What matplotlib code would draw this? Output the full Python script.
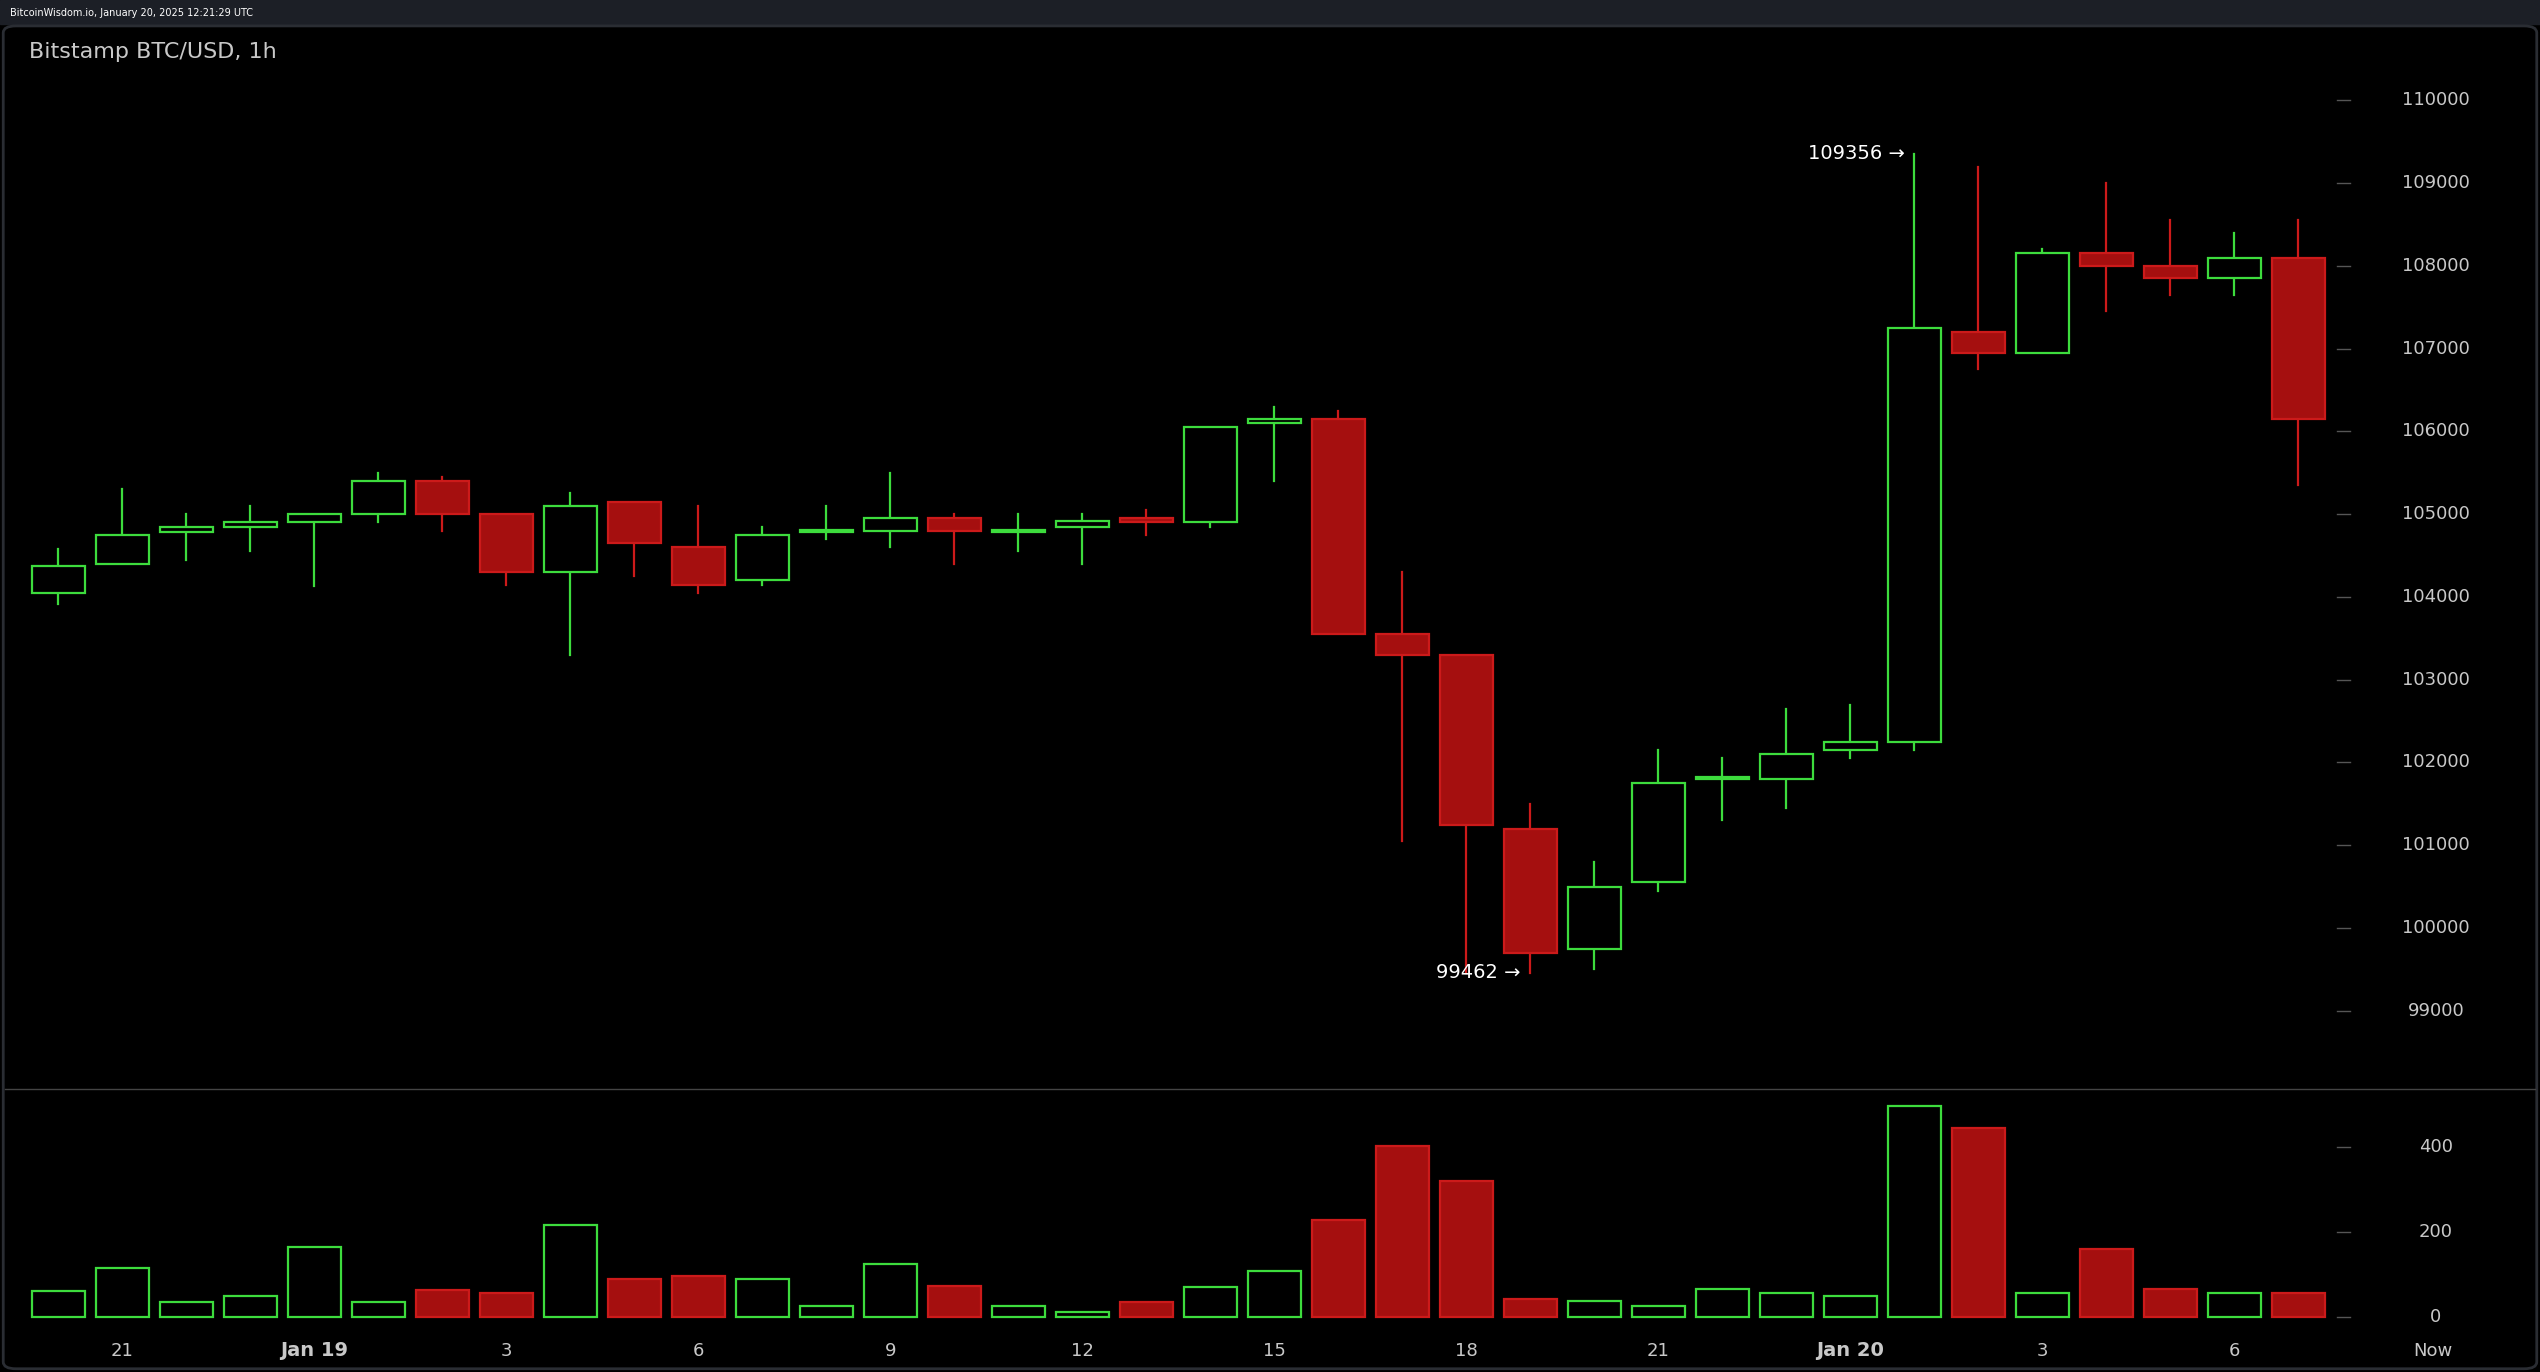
import matplotlib
matplotlib.use("Agg")
import matplotlib.pyplot as plt
from matplotlib.patches import Rectangle, FancyBboxPatch

opens  = [104050,104400,104780,104850,104900,105000,105400,105000,104300,105150,104600,104200,104780,104800,104950,104780,104850,104950,104900,106100,106150,103550,103300,101200,99750,100550,101800,101800,102150,102250,107200,106950,108150,108000,107850,108100]
closes = [104370,104750,104850,104900,105000,105400,105000,104300,105100,104650,104150,104750,104800,104950,104800,104800,104920,104900,106050,106150,103550,103300,101250,99700,100500,101750,101800,102100,102250,107250,106950,108150,108000,107850,108100,106150]
highs  = [104580,105300,105000,105100,105000,105500,105450,105000,105250,105150,105100,104850,105100,105500,105000,105000,105000,105050,106050,106300,106250,104300,103300,101500,100800,102150,102050,102650,102700,109356,109200,108200,109000,108550,108400,108550]
lows   = [103920,104400,104450,104550,104130,104900,104800,104150,103300,104250,104050,104150,104700,104600,104400,104550,104400,104750,104850,105400,103550,101050,99462,99450,99500,100450,101300,101450,102050,102150,106750,106950,107450,107650,107650,105350]
volumes = [60,115,35,50,165,35,62,57,215,90,95,90,25,125,72,25,12,35,70,108,228,402,320,43,38,25,65,57,48,495,445,57,160,65,57,57]
price_ticks = [99000,100000,101000,102000,103000,104000,105000,106000,107000,108000,109000,110000]
vol_ticks = [0,200,400]
x_tick_pos = [1,4,7,10,13,16,19,22,25,28,31,34,37.1]
x_tick_labels = ["21","Jan 19","3","6","9","12","15","18","21","Jan 20","3","6","Now"]

GREEN = "#3ddc3d"; RED_F = "#a50f0f"; RED_E = "#cc1a1a"; TXT = "#c8c8c8"
W, H = 1568, 847
fig = plt.figure(figsize=(25.4, 13.72), dpi=100, facecolor="#000000")
fig.patches.append(Rectangle((0, 1-15/H), 1, 15/H, transform=fig.transFigure, color="#1c1f26", zorder=-5))
fig.text(6/W, 1-8/H, "BitcoinWisdom.io, January 20, 2025 12:21:29 UTC", color="white", fontsize=7, va="center")
fig.patches.append(FancyBboxPatch((2/W, 2/H), 1-4/W, 1-18/H, boxstyle="round,pad=0,rounding_size=0.005",
                                  transform=fig.transFigure, fc="#000000", ec="#2a2d33", lw=2, zorder=-5))

xl = (-0.835, 38.7)
axp = fig.add_axes([3/W, 1-672/H, (1562)/W, (672-40)/H])
axv = fig.add_axes([3/W, 1-820/H, (1562)/W, (820-672)/H])
for ax in (axp, axv):
    ax.set_zorder(2)
    ax.set_facecolor("none"); ax.set_xlim(*xl)
    for s in ax.spines.values(): s.set_visible(False)
    ax.set_xticks([]); ax.set_yticks([])
axp.set_ylim(98060, 110430)
axv.set_ylim(-27, 537)
bw = 0.83
for i,(o,c,h,l,v) in enumerate(zip(opens,closes,highs,lows,volumes)):
    up = c >= o
    ec = GREEN if up else RED_E
    fc = "#000000" if up else RED_F
    lo, hi = min(o,c), max(o,c)
    axp.plot([i,i],[hi,h], color=ec, lw=1.6, zorder=1)
    axp.plot([i,i],[l,lo], color=ec, lw=1.6, zorder=1)
    axp.add_patch(Rectangle((i-bw/2, lo), bw, max(hi-lo, 25), fc=fc, ec=ec, lw=1.6, zorder=2))
    axv.add_patch(Rectangle((i-bw/2, 0), bw, v, fc=fc, ec=ec, lw=1.6, zorder=2))
for t in price_ticks:
    axp.plot([35.6,35.8],[t,t], color="#555", lw=1)
    axp.text(37.15, t, str(t), color=TXT, fontsize=13, ha="center", va="center")
for t in vol_ticks:
    axv.plot([35.6,35.8],[t,t], color="#555", lw=1)
    axv.text(37.15, t, str(t), color=TXT, fontsize=13, ha="center", va="center")
axp.text(28.85, 109356, "109356 →", color="white", fontsize=14, ha="right", va="center")
axp.text(22.85, 99462, "99462 →", color="white", fontsize=14, ha="right", va="center")
fig.text(18/W, 1-32/H, "Bitstamp BTC/USD, 1h", color=TXT, fontsize=16, va="center")
fig.lines.append(plt.Line2D([3/W, 1-3/W], [1-672/H]*2, transform=fig.transFigure, color="#444", lw=1))
for p, lab in zip(x_tick_pos, x_tick_labels):
    xf = (3 + (p - xl[0])/(xl[1]-xl[0])*1562)/W
    bold = lab.startswith("Jan")
    fig.text(xf, 1-834/H, lab, color=TXT, fontsize=14 if bold else 13, ha="center", va="center",
             fontweight="bold" if bold else "normal")
fig.savefig("out.png", dpi=100, facecolor="#000000")
